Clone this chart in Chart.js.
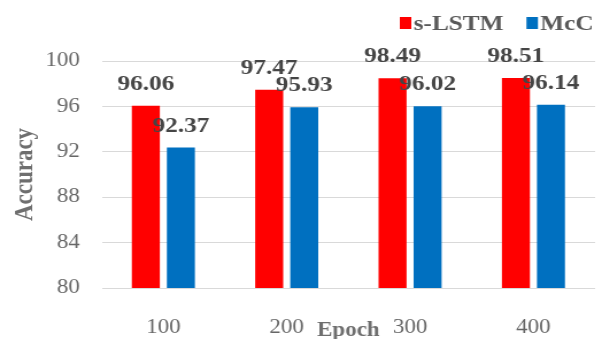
<!DOCTYPE html>
<html>
<head>
<meta charset="utf-8">
<script src="https://cdn.jsdelivr.net/npm/chart.js@4.4.0/dist/chart.umd.min.js"></script>
<style>
  html, body { margin: 0; padding: 0; background: #ffffff; }
  #wrap { width: 602px; height: 339px; overflow: hidden; position: relative; }
  /* the chart is laid out on a narrower canvas and widened, giving the wide serif lettering */
  #c { display: block; transform-origin: 0 0; transform: scaleX(1.14885); }
</style>
</head>
<body>
<div id="wrap"><canvas id="c" width="524" height="339"></canvas></div>
<script>
// Accuracy per training length
const epochs = ['100', '200', '300', '400'];
const sLstmAcc = [96.06, 97.47, 98.49, 98.51];
const mccAcc = [92.37, 95.93, 96.02, 96.14];
const seriesNames = ['s-LSTM', 'McC'];
const yTicks = [80, 84, 88, 92, 96, 100];

const SERIF = '"Liberation Serif", "Times New Roman", serif';

// value printed above each bar
const valueLabels = {
  id: 'valueLabels',
  afterDatasetsDraw(chart) {
    const ctx = chart.ctx;
    ctx.save();
    ctx.font = 'bold 22px ' + SERIF;
    ctx.fillStyle = '#454545';
    ctx.textAlign = 'center';
    ctx.textBaseline = 'alphabetic';
    chart.data.datasets.forEach((ds, di) => {
      const meta = chart.getDatasetMeta(di);
      meta.data.forEach((bar, i) => {
        ctx.fillText(ds.data[i].toFixed(2), bar.x, bar.y - 16);
      });
    });
    ctx.restore();
  }
};

// compact legend in the top-right corner
const cornerLegend = {
  id: 'cornerLegend',
  afterDraw(chart) {
    const ctx = chart.ctx;
    ctx.save();
    ctx.font = 'bold 22px ' + SERIF;
    ctx.textAlign = 'left';
    ctx.textBaseline = 'middle';
    let x = 348;
    const y = 23;
    chart.data.datasets.forEach((ds) => {
      ctx.fillStyle = ds.backgroundColor;
      ctx.fillRect(x, y - 6, 10, 12);
      x += 12;
      ctx.fillStyle = '#595959';
      ctx.fillText(ds.label, x, y + 1);
      x += ctx.measureText(ds.label).width + 20;
    });
    ctx.restore();
  }
};

new Chart(document.getElementById('c'), {
  type: 'bar',
  data: {
    labels: epochs,
    datasets: [
      { label: seriesNames[0], data: sLstmAcc, backgroundColor: '#FF0000',
        categoryPercentage: 0.568, barPercentage: 0.8 },
      { label: seriesNames[1], data: mccAcc, backgroundColor: '#0070C0',
        categoryPercentage: 0.568, barPercentage: 0.8 }
    ]
  },
  options: {
    responsive: false,
    animation: false,
    devicePixelRatio: 1,
    layout: { padding: { top: 61, left: 5, right: 6, bottom: 0 } },
    plugins: {
      legend: { display: false },
      tooltip: { enabled: false }
    },
    scales: {
      x: {
        grid: { display: false },
        border: { display: false },
        ticks: {
          padding: 19.5,
          color: '#666666',
          font: { family: SERIF, size: 20 }
        },
        title: {
          display: true,
          text: 'Epoch',
          color: '#6e6e6e',
          font: { family: SERIF, size: 20, weight: 'bold' },
          padding: { top: -16, bottom: -4 }
        },
        afterFit: (s) => { s.height = 51; }
      },
      y: {
        min: 80,
        max: 100,
        grid: { color: '#D9D9D9', lineWidth: 1, drawTicks: false },
        border: { display: false },
        afterBuildTicks: (s) => { s.ticks = yTicks.map(v => ({ value: v })); },
        ticks: {
          padding: 19,
          color: '#666666',
          font: { family: SERIF, size: 20 }
        },
        title: {
          display: true,
          text: 'Accuracy',
          color: '#6e6e6e',
          font: { family: SERIF, size: 23, weight: 'bold' },
          padding: { top: 3, bottom: 4 }
        },
        afterFit: (s) => { s.width = 83.5; }
      }
    }
  },
  plugins: [valueLabels, cornerLegend]
});
</script>
</body>
</html>
